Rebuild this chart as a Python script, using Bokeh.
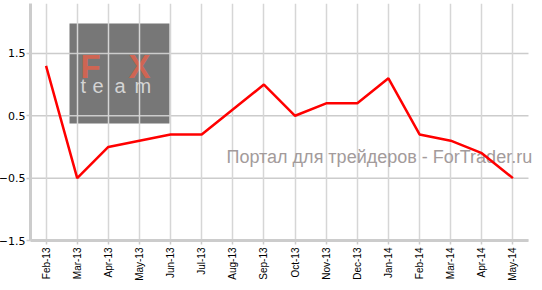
from math import pi
from bokeh.plotting import figure
from bokeh.models import Range1d, FixedTicker, BoxAnnotation, Label
from bokeh.embed import file_html
from bokeh.resources import INLINE

months = ["Feb-13", "Mar-13", "Apr-13", "May-13", "Jun-13", "Jul-13", "Aug-13",
          "Sep-13", "Oct-13", "Nov-13", "Dec-13", "Jan-14", "Feb-14", "Mar-14",
          "Apr-14", "May-14"]
values = [1.3, -0.5, 0.0, 0.1, 0.2, 0.2, 0.6, 1.0, 0.5, 0.7, 0.7, 1.1, 0.2, 0.1, -0.1, -0.5]
y_ticks = [-1.5, -0.5, 0.5, 1.5]

xs = list(range(len(months)))
x_lo, x_hi = -0.5, len(months) - 0.5

p = figure(width=547, height=290, x_range=Range1d(x_lo, 15.95), y_range=Range1d(-1.5, 2.3),
           output_backend="svg", toolbar_location=None,
           min_border_left=30, min_border_right=0, min_border_top=3, min_border_bottom=50)
p.styles = {"margin-left": "-5px"}
p.outline_line_color = None
p.background_fill_color = "white"

# logo watermark (frame-relative screen units)
box = BoxAnnotation(left=39, right=139, top=217, bottom=117,
                    left_units="screen", right_units="screen", top_units="screen", bottom_units="screen",
                    fill_color="#777777", fill_alpha=1.0, line_color=None, level="image")
p.add_layout(box)
for ch, lx in (("F", 50), ("X", 98)):
    p.add_layout(Label(x=lx, y=174, x_units="screen", y_units="screen", text=ch,
                       text_font="Liberation Sans", text_font_size="33px", text_color="#cf6553",
                       text_font_style="bold", text_baseline="alphabetic", level="image"))
for ch, lx in (("t", 50), ("e", 62), ("a", 84), ("m", 104)):
    p.add_layout(Label(x=lx, y=155, x_units="screen", y_units="screen", text=ch,
                       text_font="Liberation Sans", text_font_size="20px", text_color="#d4d4d4",
                       text_baseline="alphabetic", level="image"))

# horizontal grid limited to the category span
p.segment(x0=[x_lo] * len(y_ticks), x1=[x_hi] * len(y_ticks), y0=y_ticks, y1=y_ticks,
          line_color="#cccccc", line_width=1.5, level="underlay")

wm = Label(x=196, y=84, x_units="screen", y_units="screen",
           text="Портал для трейдеров - ForTrader.ru",
           text_font="Liberation Sans", text_font_size="18px", text_color="#a39b9b",
           text_baseline="alphabetic", level="underlay")
p.add_layout(wm)

p.line(x=xs, y=values, line_color="#ff0000", line_width=2.5)

p.ygrid.grid_line_color = None
p.xgrid.grid_line_color = "#d6d6d6"
p.xgrid.grid_line_width = 1.5
p.xgrid.ticker = FixedTicker(ticks=xs)

p.xaxis.ticker = FixedTicker(ticks=xs)
p.xaxis.major_label_overrides = {i: m for i, m in zip(xs, months)}
p.xaxis.bounds = (x_lo, x_hi)
p.yaxis.ticker = FixedTicker(ticks=y_ticks)

for ax in (p.xaxis, p.yaxis):
    ax.axis_line_color = "#cccccc"
    ax.axis_line_width = 3
    ax.major_tick_line_color = "#cccccc"
    ax.major_tick_line_width = 1.5
    ax.minor_tick_line_color = None
    ax.major_tick_in = 0
    ax.major_label_text_color = "black"

p.yaxis.major_tick_out = 4
p.yaxis.major_label_text_font = "DejaVu Sans"
p.yaxis.major_label_text_font_size = "11px"
p.yaxis.major_label_standoff = 1
p.xaxis.major_tick_out = 4
p.xaxis.major_label_orientation = pi / 2
p.xaxis.major_label_text_font = "Liberation Sans"
p.xaxis.major_label_text_font_size = "10px"
p.xaxis.major_label_standoff = 3

open("out.html", "w").write(file_html(p, INLINE))
